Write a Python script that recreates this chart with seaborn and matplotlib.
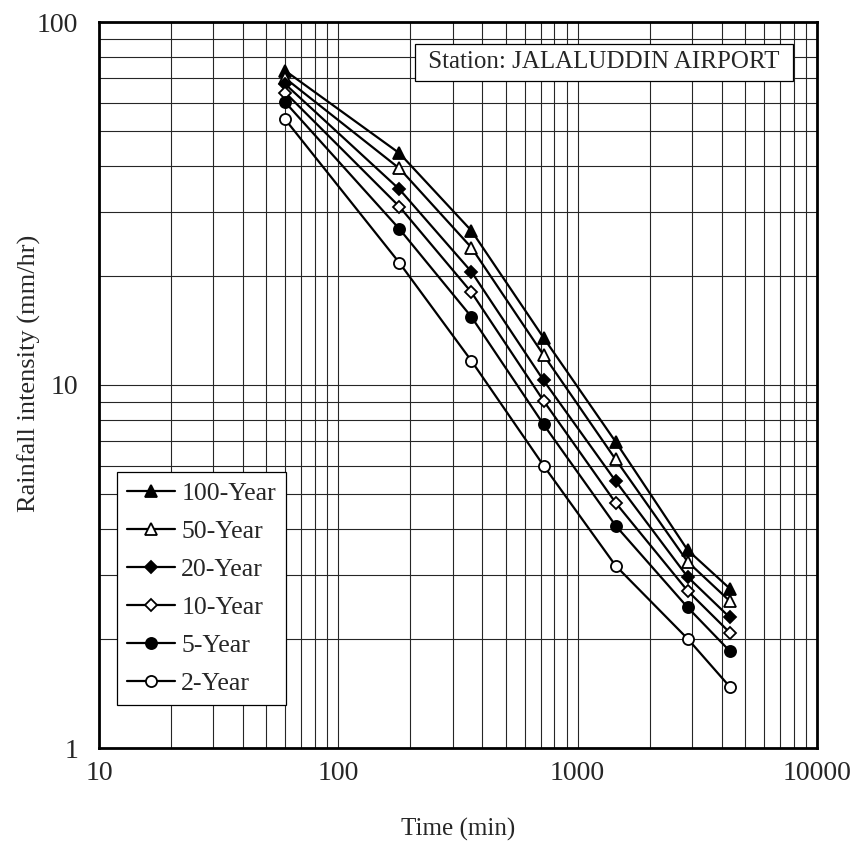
import numpy as np
import matplotlib
matplotlib.use("Agg")
import matplotlib.pyplot as plt
from matplotlib.ticker import FuncFormatter, NullFormatter, LogLocator
import seaborn as sns

# durations (min)
durations = [60, 180, 360, 720, 1440, 2880, 4320]

# rainfall intensity (mm/hr) per return period
yr100 = [73.4, 43.5, 26.6, 13.5, 6.98, 3.51, 2.75]
yr50 = [70.0, 39.5, 23.9, 12.1, 6.24, 3.26, 2.54]
yr20 = [67.4, 34.6, 20.5, 10.3, 5.44, 2.96, 2.29]
yr10 = [63.9, 31.0, 18.0, 9.05, 4.74, 2.71, 2.08]
yr5 = [60.1, 26.9, 15.4, 7.79, 4.10, 2.44, 1.85]
yr2 = [53.9, 21.7, 11.65, 6.0, 3.18, 2.00, 1.475]

labels = ["100-Year", "50-Year", "20-Year", "10-Year", "5-Year", "2-Year"]
series = [yr100, yr50, yr20, yr10, yr5, yr2]
markers = ["^", "^", "D", "D", "o", "o"]
faces = ["black", "white", "black", "white", "black", "white"]
sizes = [8, 8, 6.5, 6.5, 8, 8]

sns.set_style("white")
plt.rcParams['font.family'] = ['Liberation Serif', 'DejaVu Serif']

fig = plt.figure(figsize=(8.55, 8.52), dpi=100)
ax = fig.add_axes([99 / 855, (852 - 748) / 852, 718 / 855, 726 / 852])

for vals, lab, mk, fc, ms in zip(series, labels, markers, faces, sizes):
    sns.lineplot(x=durations, y=vals, ax=ax, color="black", linewidth=1.6,
                 marker=mk, markersize=ms, markerfacecolor=fc,
                 markeredgecolor="black", markeredgewidth=1.3, label=lab)

ax.set_xscale("log")
ax.set_yscale("log")
ax.set_xlim(10, 10000)
ax.set_ylim(1, 100)

ax.xaxis.set_major_locator(LogLocator(base=10))
ax.yaxis.set_major_locator(LogLocator(base=10))
ax.xaxis.set_minor_locator(LogLocator(base=10, subs=np.arange(2, 10)))
ax.yaxis.set_minor_locator(LogLocator(base=10, subs=np.arange(2, 10)))
fmt = FuncFormatter(lambda v, p: f"{v:g}")
ax.xaxis.set_major_formatter(fmt)
ax.yaxis.set_major_formatter(fmt)
ax.xaxis.set_minor_formatter(NullFormatter())
ax.yaxis.set_minor_formatter(NullFormatter())

ax.grid(which="both", color="0.15", linewidth=0.8)
ax.set_axisbelow(True)
ax.tick_params(which="both", length=0, labelsize=20)
ax.tick_params(axis="x", pad=9)
ax.tick_params(axis="y", pad=15)

for sp in ax.spines.values():
    sp.set_visible(True)
    sp.set_color("black")
    sp.set_linewidth(2)

ax.set_xlabel("Time (min)", fontsize=18, labelpad=23)
ax.set_ylabel("Rainfall intensity (mm/hr)", fontsize=19)
ax.yaxis.set_label_coords(-0.081, 0.516)

leg = ax.legend(loc="lower left", bbox_to_anchor=(0.025, 0.059), fontsize=18.5,
                frameon=True, fancybox=False, edgecolor="black",
                framealpha=1, handlelength=1.85, borderpad=0.4,
                labelspacing=0.58, handletextpad=0.25, borderaxespad=0)
leg.get_frame().set_linewidth(0.9)

ax.text(0.956, 0.9594, " Station: JALALUDDIN AIRPORT ", transform=ax.transAxes,
        ha="right", va="top", fontsize=18,
        bbox=dict(boxstyle="square,pad=0.3", facecolor="white",
                  edgecolor="black", linewidth=0.9))

fig.savefig("out.png", dpi=100)
